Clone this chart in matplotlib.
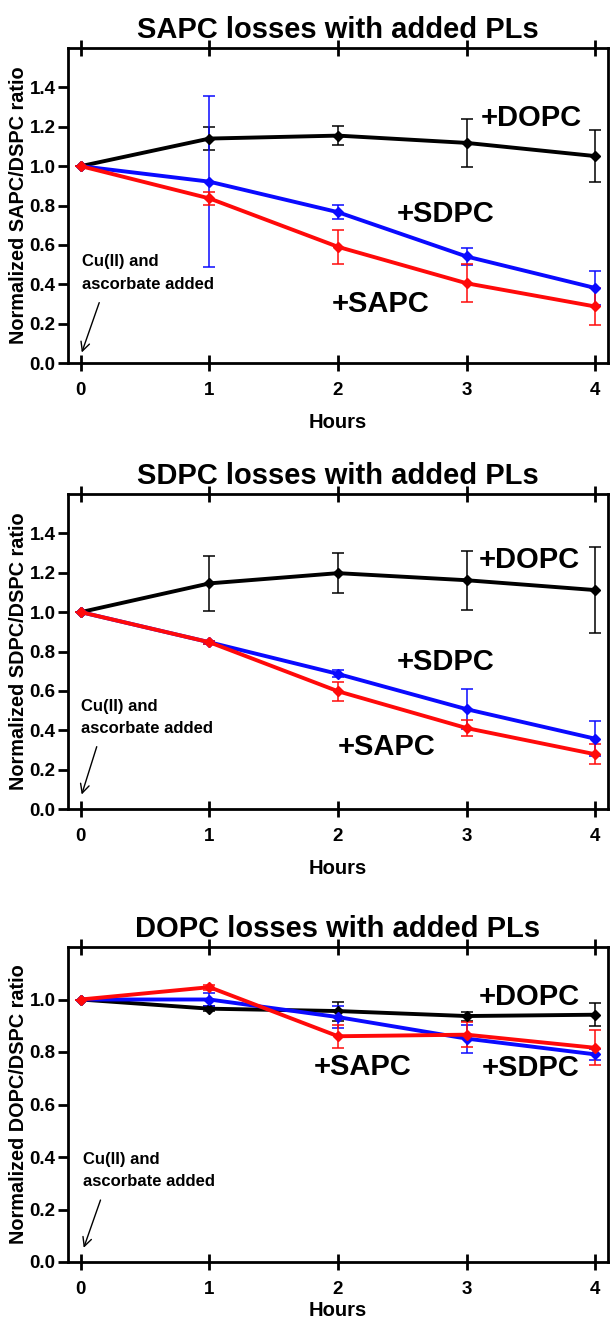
import matplotlib
matplotlib.use("Agg")
import matplotlib.pyplot as plt

plt.rcParams['font.family'] = ['Liberation Sans', 'DejaVu Sans']
plt.rcParams['font.weight'] = 'bold'

hours = [0, 1, 2, 3, 4]

# panel 1: SAPC losses
sapc_dopc = [1.0, 1.14, 1.155, 1.118, 1.051]
sapc_dopc_err = [0, 0.06, 0.048, 0.12, 0.13]
sapc_sdpc = [1.0, 0.921, 0.766, 0.541, 0.381]
sapc_sdpc_err = [0, 0.434, 0.036, 0.043, 0.088]
sapc_sapc = [1.0, 0.836, 0.59, 0.405, 0.287]
sapc_sapc_err = [0, 0.034, 0.085, 0.097, 0.093]

# panel 2: SDPC losses
sdpc_dopc = [1.0, 1.146, 1.198, 1.162, 1.112]
sdpc_dopc_err = [0, 0.14, 0.103, 0.151, 0.22]
sdpc_sdpc = [1.0, 0.847, 0.686, 0.507, 0.357]
sdpc_sdpc_err = [0, 0.008, 0.018, 0.1, 0.09]
sdpc_sapc = [1.0, 0.847, 0.598, 0.411, 0.278]
sdpc_sapc_err = [0, 0.008, 0.047, 0.039, 0.051]

# panel 3: DOPC losses
dopc_dopc = [1.0, 0.965, 0.956, 0.937, 0.942]
dopc_dopc_err = [0, 0.01, 0.036, 0.017, 0.044]
dopc_sdpc = [1.0, 1.0, 0.933, 0.851, 0.791]
dopc_sdpc_err = [0, 0.025, 0.041, 0.053, 0.022]
dopc_sapc = [1.0, 1.047, 0.86, 0.866, 0.816]
dopc_sapc_err = [0, 0.01, 0.044, 0.047, 0.067]

titles = ["SAPC losses with added PLs", "SDPC losses with added PLs", "DOPC losses with added PLs"]
ylabels = ["Normalized SAPC/DSPC ratio", "Normalized SDPC/DSPC ratio", "Normalized DOPC/DSPC ratio"]

panels = [
    (sapc_dopc, sapc_dopc_err, sapc_sdpc, sapc_sdpc_err, sapc_sapc, sapc_sapc_err),
    (sdpc_dopc, sdpc_dopc_err, sdpc_sdpc, sdpc_sdpc_err, sdpc_sapc, sdpc_sapc_err),
    (dopc_dopc, dopc_dopc_err, dopc_sdpc, dopc_sdpc_err, dopc_sapc, dopc_sapc_err),
]
ylims = [1.6, 1.6, 1.2]
# label positions (x, y) for +DOPC, +SDPC, +SAPC
label_pos = [
    [(3.5, 1.245), (2.84, 0.755), (2.33, 0.30)],
    [(3.49, 1.267), (2.84, 0.745), (2.38, 0.315)],
    [(3.49, 1.011), (3.5, 0.738), (2.19, 0.744)],
]
# text x, text y (centre of block), arrow start x, y, arrow end x, y
note_pos = [(0.01, 0.457, 0.15, 0.32, 0.0, 0.04),
            (0.0, 0.465, 0.13, 0.33, 0.0, 0.06),
            (0.02, 0.35, 0.16, 0.246, 0.015, 0.044)]
xlabel_pads = [10, 10, 2]

W, H = 611, 1318
fig = plt.figure(figsize=(W / 100, H / 100), dpi=100)
bottoms = [363, 809, 1262]

for i in range(3):
    ax = fig.add_axes([68 / W, 1 - bottoms[i] / H, 540 / W, 315 / H])
    dopc, dopc_e, sdpc, sdpc_e, sapc, sapc_e = panels[i]
    kw = dict(marker='D', markersize=5.5, lw=2.8, capsize=4, elinewidth=1.1, capthick=1.1)
    ax.errorbar(hours, dopc, yerr=dopc_e, color='black', **kw)
    ax.errorbar(hours, sdpc, yerr=sdpc_e, color='#0a0aff', **kw)
    ax.errorbar(hours, sapc, yerr=sapc_e, color='#ff0a0a', **kw)

    ax.set_xlim(-0.1, 4.1)
    ax.set_ylim(0, ylims[i])
    ax.set_xticks(hours)
    yt = [v / 10 for v in range(0, int(round(ylims[i] * 10)), 2)]
    ax.set_yticks(yt)
    ax.set_yticklabels(["%.1f" % v for v in yt])
    ax.tick_params(axis='x', direction='inout', length=12, width=2, top=True, labelsize=13.5, pad=8)
    ax.tick_params(axis='y', direction='out', length=7, width=2, labelsize=13.5, pad=2)
    for sp in ax.spines.values():
        sp.set_linewidth(2.0)
    ax.set_title(titles[i], fontsize=21, fontweight='bold', pad=7)
    ax.set_xlabel("Hours", fontsize=14.5, fontweight='bold', labelpad=xlabel_pads[i])
    ax.set_ylabel(ylabels[i], fontsize=14.3, fontweight='bold', labelpad=1)

    names = ["+DOPC", "+SDPC", "+SAPC"]
    for n, (lx, ly) in zip(names, label_pos[i]):
        ax.text(lx, ly, n, fontsize=21, fontweight='bold', ha='center', va='center')

    tx, ty, ax0, ay0, ax1, ay1 = note_pos[i]
    ax.text(tx, ty, "Cu(II) and\nascorbate added", fontsize=12, fontweight='bold',
            ha='left', va='center', linespacing=1.6)
    ax.annotate("", xy=(ax1, ay1), xytext=(ax0, ay0),
                arrowprops=dict(arrowstyle='->', lw=1, color='black', mutation_scale=16))

fig.savefig("out.png", dpi=100)
